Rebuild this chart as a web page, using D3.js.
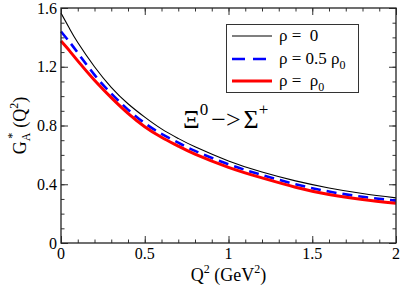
<!DOCTYPE html>
<html>
<head>
<meta charset="utf-8">
<script src="https://cdn.jsdelivr.net/npm/d3@7"></script>
<style>
  body { margin: 0; background: #fff; }
  svg text { font-family: "Liberation Serif", "Times New Roman", Times, "DejaVu Serif", serif; }
</style>
</head>
<body>
<script>
(function () {
  const q2 = [0, 0.05, 0.1, 0.2, 0.3, 0.4, 0.5, 0.6, 0.7, 0.8, 1.0, 1.2, 1.4, 1.6, 1.8, 2.0]
  const rho0 = [1.565, 1.462, 1.365, 1.20, 1.06, 0.948, 0.857, 0.777, 0.712, 0.655, 0.559, 0.483, 0.423, 0.375, 0.337, 0.307]
  const rhoHalf = [1.44, 1.37, 1.295, 1.145, 1.018, 0.908, 0.816, 0.743, 0.683, 0.627, 0.536, 0.463, 0.40, 0.35, 0.315, 0.288]
  const rhoFull = [1.375, 1.31, 1.24, 1.108, 0.99, 0.883, 0.792, 0.72, 0.66, 0.605, 0.515, 0.443, 0.38, 0.33, 0.296, 0.27]

  const xMajor = [0, 0.5, 1, 1.5, 2]
  const xLabels = ['0', '0.5', '1', '1.5', '2']
  const yMajor = [0, 0.4, 0.8, 1.2, 1.6]
  const yLabels = ['0', '0.4', '0.8', '1.2', '1.6']

  const W = 402, H = 288
  const left = 61, right = 396, top = 8, bottom = 243

  const x = d3.scaleLinear().domain([0, 2]).range([left, right])
  const y = d3.scaleLinear().domain([0, 1.6]).range([bottom, top])

  const svg = d3.select('body').append('svg')
                .attr('width', W)
                .attr('height', H)
                .attr('font-family', 'Liberation Serif, Times New Roman, serif')

  const xMinor = d3.range(0, 2.001, 0.1).map(v => +v.toFixed(1))
  const yMinor = d3.range(0, 1.601, 0.1).map(v => +v.toFixed(1))

  // ticks, all pointing inward
  function ticks (axis, tr, vals, size) {
    svg.append('g')
       .attr('transform', tr)
       .call(axis.tickValues(vals).tickSize(size).tickFormat(''))
       .call(g => g.select('.domain').remove())
       .selectAll('line').attr('stroke', '#333').attr('stroke-width', 1)
  }
  ticks(d3.axisBottom(x), `translate(0,${bottom})`, xMinor, -3.5)
  ticks(d3.axisBottom(x), `translate(0,${bottom})`, xMajor, -7)
  ticks(d3.axisTop(x), `translate(0,${top})`, xMinor, -3.5)
  ticks(d3.axisTop(x), `translate(0,${top})`, xMajor, -7)
  ticks(d3.axisLeft(y), `translate(${left},0)`, yMinor, -3.5)
  ticks(d3.axisLeft(y), `translate(${left},0)`, yMajor, -7)
  ticks(d3.axisRight(y), `translate(${right},0)`, yMinor, -3.5)
  ticks(d3.axisRight(y), `translate(${right},0)`, yMajor, -7)

  // tick labels
  svg.append('g').selectAll('text')
     .data(xMajor).enter().append('text')
     .attr('x', d => x(d)).attr('y', bottom + 16)
     .attr('text-anchor', 'middle').attr('font-size', 16)
     .text((d, i) => xLabels[i])
  svg.append('g').selectAll('text')
     .data(yMajor).enter().append('text')
     .attr('x', left - 4).attr('y', d => y(d)).attr('dy', '0.35em')
     .attr('text-anchor', 'end').attr('font-size', 16)
     .text((d, i) => yLabels[i])

  // curves
  const series = [
    { vals: rho0, color: '#000', width: 1.1, dash: null },
    { vals: rhoHalf, color: '#0000ff', width: 2.6, dash: '10,6' },
    { vals: rhoFull, color: '#ff0000', width: 3, dash: null }
  ]
  const line = d3.line()
                 .x((d, i) => x(q2[i]))
                 .y(d => y(d))
                 .curve(d3.curveNatural)
  svg.append('g').selectAll('path')
     .data(series).enter().append('path')
     .attr('d', d => line(d.vals))
     .attr('fill', 'none')
     .attr('stroke', d => d.color)
     .attr('stroke-width', d => d.width)
     .attr('stroke-dasharray', d => d.dash)

  // frame
  svg.append('rect')
     .attr('x', left).attr('y', top)
     .attr('width', right - left).attr('height', bottom - top)
     .attr('fill', 'none').attr('stroke', '#222').attr('stroke-width', 1.3)

  // legend
  svg.append('rect')
     .attr('x', 226.5).attr('y', 24.5).attr('width', 132).attr('height', 68)
     .attr('fill', '#fff').attr('stroke', '#333').attr('stroke-width', 1)
  const rows = [
    { y: 36, s: series[0], main: 'ρ =  0', sub: '' },
    { y: 59, s: series[1], main: 'ρ = 0.5 ρ', sub: '0' },
    { y: 81, s: series[2], main: 'ρ =  ρ', sub: '0' }
  ]
  const leg = svg.append('g').selectAll('g').data(rows).enter().append('g')
  leg.append('line')
     .attr('x1', 232).attr('x2', 272)
     .attr('y1', d => d.y).attr('y2', d => d.y)
     .attr('stroke', d => d.s.color)
     .attr('stroke-width', d => d.s.width)
     .attr('stroke-dasharray', d => d.s.dash ? '13,8' : null)
  const lt = leg.append('text')
     .attr('x', 279).attr('y', d => d.y + 5)
     .attr('font-size', 17)
     .attr('xml:space', 'preserve')
  lt.append('tspan').text(d => d.main)
  lt.append('tspan').attr('dy', 5).attr('font-size', 12).text(d => d.sub)

  // annotation
  const ann = svg.append('text')
     .attr('x', 183).attr('y', 128)
     .attr('font-size', 26)
  ann.append('tspan').text('Ξ')
  ann.append('tspan').attr('dy', -13).attr('font-size', 17).text('0')
  ann.append('tspan').attr('dy', 13).attr('dx', 3).text('−>')
  ann.append('tspan').attr('dx', 3).text('Σ')
  ann.append('tspan').attr('dy', -13).attr('font-size', 17).text('+')

  // axis titles
  const xt = svg.append('text')
     .attr('x', (left + right) / 2).attr('y', 281)
     .attr('text-anchor', 'middle').attr('font-size', 18)
  xt.append('tspan').text('Q')
  xt.append('tspan').attr('dy', -8).attr('font-size', 12).text('2')
  xt.append('tspan').attr('dy', 8).text(' (GeV')
  xt.append('tspan').attr('dy', -8).attr('font-size', 12).text('2')
  xt.append('tspan').attr('dy', 8).text(')')

  const yt = svg.append('text')
     .attr('transform', `translate(26,${(top + bottom) / 2}) rotate(-90)`)
     .attr('text-anchor', 'middle').attr('font-size', 18)
  yt.append('tspan').text('G')
  yt.append('tspan').attr('dy', 4).attr('font-size', 12).text('A')
  yt.append('tspan').attr('dy', -14).attr('dx', -6).attr('font-size', 12).text('*')
  yt.append('tspan').attr('dy', 10).attr('dx', 5).text('(Q')
  yt.append('tspan').attr('dy', -8).attr('font-size', 12).text('2')
  yt.append('tspan').attr('dy', 8).text(')')
})()
</script>
</body>
</html>
